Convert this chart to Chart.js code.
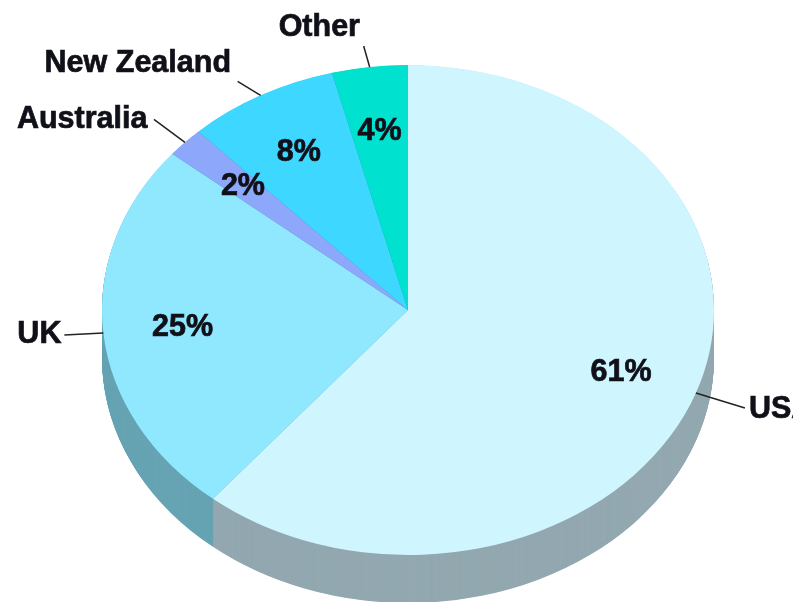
<!DOCTYPE html>
<html>
<head>
<meta charset="utf-8">
<style>html,body{margin:0;padding:0;background:#fff;overflow:hidden}canvas{display:block}</style>
<script src="https://cdn.jsdelivr.net/npm/chart.js@4"></script>
</head>
<body>
<canvas id="c" width="793" height="602"></canvas>
<script>
const categories = ['USA', 'UK', 'Australia', 'New Zealand', 'Other'];
const shares = [61, 25, 2, 8, 4];
const topColors = ['#cff5ff', '#90e8ff', '#8da8fb', '#3dd7ff', '#00e2cf'];
const wallColors = ['#93a8b0', '#66a3b3', '#5f74ad', '#2a94b0', '#009c8f'];
const leaderOffsets = [[49, 15], [-39, 2], [-31, -23], [-23, -14], [-6, -21]];
const nameOffsets = [[53, 17], [-86, 2], [-168, -23], [-216, -32], [-91, -39]];

const CX = 408, CY = 310, RX = 306, RY = 245, DEPTH = 48, STEP = 0.5;

function applyEllipse(ctx, el, dy) {
  ctx.translate(CX, CY + dy);
  ctx.scale(RX / el.outerRadius, RY / el.outerRadius);
  ctx.translate(-el.x, -el.y);
}

function heavyText(ctx, text, x, y) {
  ctx.strokeStyle = '#101018';
  ctx.lineWidth = 0.7;
  ctx.strokeText(text, x, y);
  ctx.fillText(text, x, y);
}

const pie3d = {
  id: 'pie3d',
  beforeDatasetDraw(chart, args) {
    const ctx = chart.ctx, els = args.meta.data;
    for (let dy = DEPTH; dy > 0; dy -= STEP) {
      els.forEach((el, i) => {
        const orig = el.options;
        el.options = Object.assign({}, orig, { backgroundColor: wallColors[i] });
        ctx.save();
        applyEllipse(ctx, el, dy);
        el.draw(ctx);
        ctx.restore();
        el.options = orig;
      });
    }
    ctx.save();
    applyEllipse(ctx, els[0], 0);
  },
  afterDatasetDraw(chart) {
    chart.ctx.restore();
  },
  afterDatasetsDraw(chart) {
    const ctx = chart.ctx, els = chart.getDatasetMeta(0).data;
    ctx.save();
    ctx.font = 'bold 30.5px "Liberation Sans", Arial, sans-serif';
    ctx.textBaseline = 'middle';
    els.forEach((el, i) => {
      const mid = (el.startAngle + el.endAngle) / 2;
      const ux = Math.cos(mid), uy = Math.sin(mid);
      const ax = CX + RX * ux, ay = CY + RY * uy;
      // percent label
      ctx.fillStyle = '#101018';
      ctx.textAlign = 'center';
      heavyText(ctx, shares[i] + '%', CX + 0.74 * RX * ux, CY + 0.74 * RY * uy + 1);
      // leader
      ctx.strokeStyle = '#222';
      ctx.lineWidth = 1.5;
      ctx.beginPath();
      ctx.moveTo(ax, ay);
      ctx.lineTo(ax + leaderOffsets[i][0], ay + leaderOffsets[i][1]);
      ctx.stroke();
      // name
      ctx.textAlign = 'left';
      heavyText(ctx, categories[i], ax + nameOffsets[i][0], ay + nameOffsets[i][1]);
    });
    ctx.restore();
  }
};

new Chart(document.getElementById('c'), {
  type: 'pie',
  data: {
    labels: categories,
    datasets: [{
      data: shares,
      backgroundColor: topColors,
      borderWidth: 0,
      clip: false
    }]
  },
  options: {
    responsive: false,
    animation: false,
    events: [],
    layout: { padding: 0 },
    plugins: { legend: { display: false }, tooltip: { enabled: false }, title: { display: false } }
  },
  plugins: [pie3d]
});
</script>
</body>
</html>
